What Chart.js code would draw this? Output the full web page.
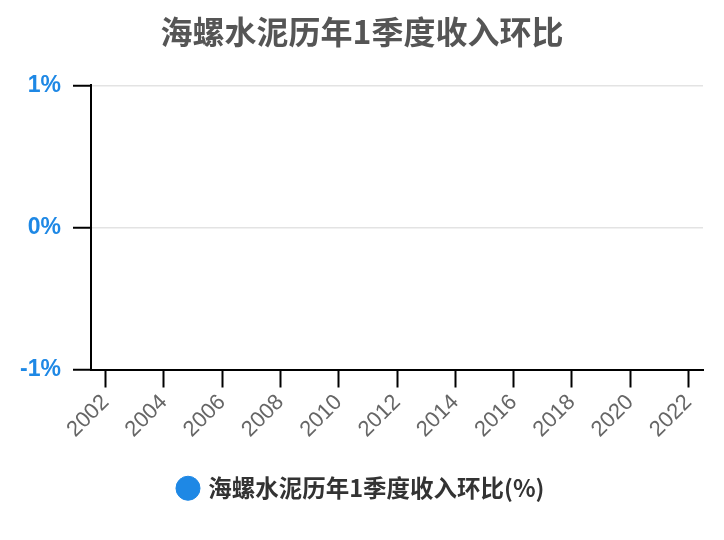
<!DOCTYPE html>
<html>
<head>
<meta charset="utf-8">
<script src="https://cdn.jsdelivr.net/npm/chart.js@4"></script>
<style>
  html, body { margin: 0; padding: 0; background: #fff; }
  #wrap { width: 724px; height: 540px; }
</style>
</head>
<body>
<div id="wrap"><canvas id="chart" width="724" height="540"></canvas></div>
<script>
// ---- data ----
const years = ['2002', '2003', '2004', '2005', '2006', '2007', '2008', '2009', '2010', '2011',
               '2012', '2013', '2014', '2015', '2016', '2017', '2018', '2019', '2020', '2021', '2022'];
// no points are drawn in the picture, so every value is empty
const qoqValues = years.map(() => null);
const seriesName = '海螺水泥历年1季度收入环比(%)';
const yTicks = [-1, 0, 1];

const blue = '#1e88e5';

const ctx = document.getElementById('chart').getContext('2d');
new Chart(ctx, {
    type: 'line',
    data: {
        labels: years,
        datasets: [{
            label: seriesName,
            data: qoqValues,
            borderColor: blue,
            backgroundColor: blue,
            pointStyle: 'circle',
            pointRadius: 4
        }]
    },
    options: {
        responsive: false,
        animation: false,
        layout: { padding: { left: 0, right: 0, top: 0, bottom: 30 } },
        plugins: {
            title: {
                display: true,
                text: '海螺水泥历年1季度收入环比',
                color: '#555',
                font: { family: 'Noto Sans CJK SC', size: 32, weight: 'bold' },
                padding: { top: 13, bottom: 34 }
            },
            legend: {
                position: 'bottom',
                labels: {
                    usePointStyle: true,
                    pointStyle: 'circle',
                    boxWidth: 17,
                    boxHeight: 17,
                    color: '#333',
                    font: { family: 'Noto Sans CJK SC', size: 23.5, weight: 'bold' },
                    padding: 20
                }
            },
            tooltip: { enabled: false }
        },
        scales: {
            x: {
                offset: true,
                afterBuildTicks: s => { s.ticks = s.ticks.filter(t => t.value % 2 === 0); },
                afterFit: s => { s.height = 87; },
                grid: { drawOnChartArea: false, drawTicks: true, tickLength: 18, tickColor: '#000', tickWidth: 2 },
                border: { color: '#000', width: 2 },
                ticks: {
                    autoSkip: false,
                    minRotation: 45,
                    maxRotation: 45,
                    color: '#666',
                    padding: 2,
                    font: { family: 'Liberation Sans', size: 22 }
                }
            },
            y: {
                min: -1,
                max: 1,
                afterBuildTicks: s => { s.ticks = yTicks.map(v => ({ value: v })); },
                afterFit: s => { s.width = 91; },
                grid: { color: '#e3e3e3', lineWidth: 1.5, tickLength: 18, tickColor: '#000', tickWidth: 2 },
                border: { color: '#000', width: 2 },
                ticks: {
                    color: blue,
                    padding: 12,
                    font: { family: 'Liberation Sans', size: 23, weight: 'bold' },
                    callback: v => v + '%'
                }
            },
            // empty right-hand axis, only to keep the plot clear of the right edge
            yRight: {
                position: 'right',
                min: -1,
                max: 1,
                afterFit: s => { s.width = 21; },
                grid: { display: false },
                border: { display: false },
                ticks: { display: false }
            }
        }
    }
});
</script>
</body>
</html>
